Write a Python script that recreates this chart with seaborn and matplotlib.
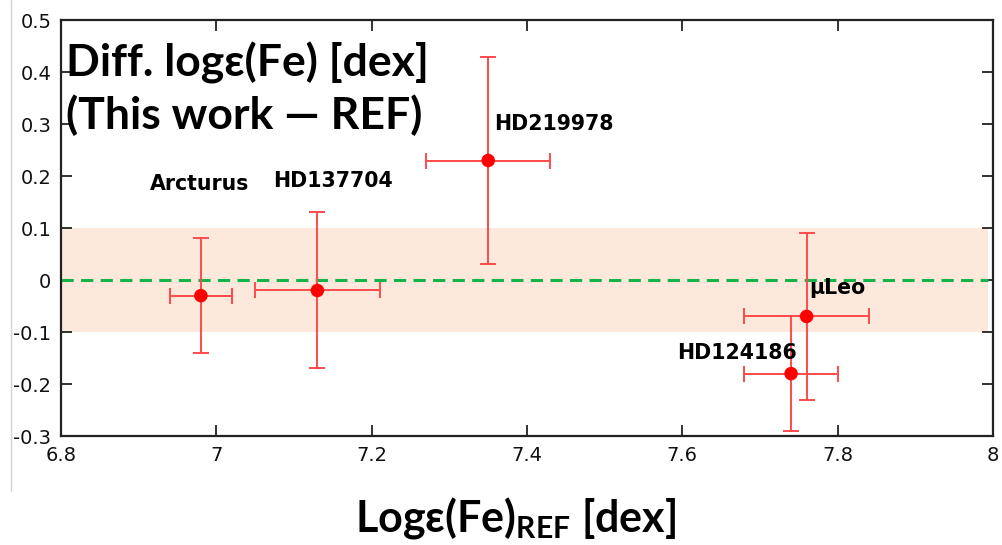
import matplotlib
matplotlib.use("Agg")
import matplotlib.pyplot as plt
import seaborn as sns
import pandas as pd

# Fe abundance: reference value vs. difference (this work - reference)
stars = ["Arcturus", "HD137704", "HD219978", "μLeo", "HD124186"]
log_fe_ref = [6.98, 7.13, 7.35, 7.76, 7.74]
diff_fe = [-0.03, -0.02, 0.23, -0.07, -0.18]
xerr = [0.04, 0.08, 0.08, 0.08, 0.06]
yerr = [0.11, 0.15, 0.20, 0.16, 0.11]

# label anchor points for each star name
label_x = [6.978, 7.15, 7.435, 7.80, 7.67]
label_y = [0.185, 0.19, 0.30, -0.015, -0.14]

band = [-0.1, 0.1]
x_ticks = [6.8, 7.0, 7.2, 7.4, 7.6, 7.8, 8.0]
x_ticklabels = ["6.8", "7", "7.2", "7.4", "7.6", "7.8", "8"]
y_ticks = [-0.3, -0.2, -0.1, 0.0, 0.1, 0.2, 0.3, 0.4, 0.5]
y_ticklabels = ["-0.3", "-0.2", "-0.1", "0", "0.1", "0.2", "0.3", "0.4", "0.5"]

df = pd.DataFrame({"star": stars, "ref": log_fe_ref, "diff": diff_fe,
                   "xerr": xerr, "yerr": yerr})

sns.set_style("ticks")
plt.rcParams["font.family"] = ["DejaVu Sans"]
plt.rcParams["mathtext.fontset"] = "custom"
plt.rcParams["mathtext.bf"] = "Lato:bold"
plt.rcParams["mathtext.rm"] = "Lato:bold"

big_font = ["Lato", "DejaVu Sans"]

fig = plt.figure(figsize=(10.02, 5.45), dpi=100)
ax = fig.add_axes([0.061, 0.2, 0.930, 0.763])

# thin frame line at the far left
fig.add_artist(plt.Line2D([0.0105, 0.0105], [0.10, 1.0], color="#d4d4d4",
                          lw=1.0, transform=fig.transFigure))

# +/-0.1 dex band and zero line
ax.fill_between([6.8, 7.993], band[0], band[1], color="#fde9dc", lw=0, zorder=0)
ax.plot([6.8, 7.993], [0, 0], color="#16b24a", lw=2.2, ls=(0, (4, 2.4)), zorder=1)

ax.errorbar(df["ref"], df["diff"], xerr=df["xerr"], yerr=df["yerr"],
            fmt="none", ecolor="#ff4a4a", elinewidth=1.4, capsize=5.5,
            capthick=1.4, zorder=2)
sns.scatterplot(data=df, x="ref", y="diff", ax=ax, color="#ff0000", s=95,
                edgecolor="none", zorder=3, legend=False)

for name, lx, ly in zip(stars, label_x, label_y):
    ax.text(lx, ly, name, ha="center", va="center", fontsize=14.8,
            fontweight="bold", color="#000000")

ax.text(0.005, 0.948, "Diff. logε(Fe) [dex]\n(This work ― REF)",
        transform=ax.transAxes, ha="left", va="top", fontsize=32,
        fontweight="bold", family=big_font, linespacing=1.3, color="#000000")

ax.set_xlim(6.8, 8.0)
ax.set_ylim(-0.3, 0.5)
ax.set_xticks(x_ticks)
ax.set_xticklabels(x_ticklabels)
ax.set_yticks(y_ticks)
ax.set_yticklabels(y_ticklabels)
ax.tick_params(direction="in", length=8, width=1.3, labelsize=14,
               top=True, right=True, labeltop=False, labelright=False,
               colors="#222222", labelcolor="#111111", pad=7)
for sp in ax.spines.values():
    sp.set_linewidth(1.6)
    sp.set_color("#222222")

ax.set_xlabel(r"Logε(Fe)$_{\mathbf{REF}}$ [dex]", fontsize=31,
              fontweight="bold", family=big_font, color="#000000")
ax.xaxis.set_label_coords(0.488, -0.143)
ax.set_ylabel("")

fig.savefig("out.png", dpi=100)
